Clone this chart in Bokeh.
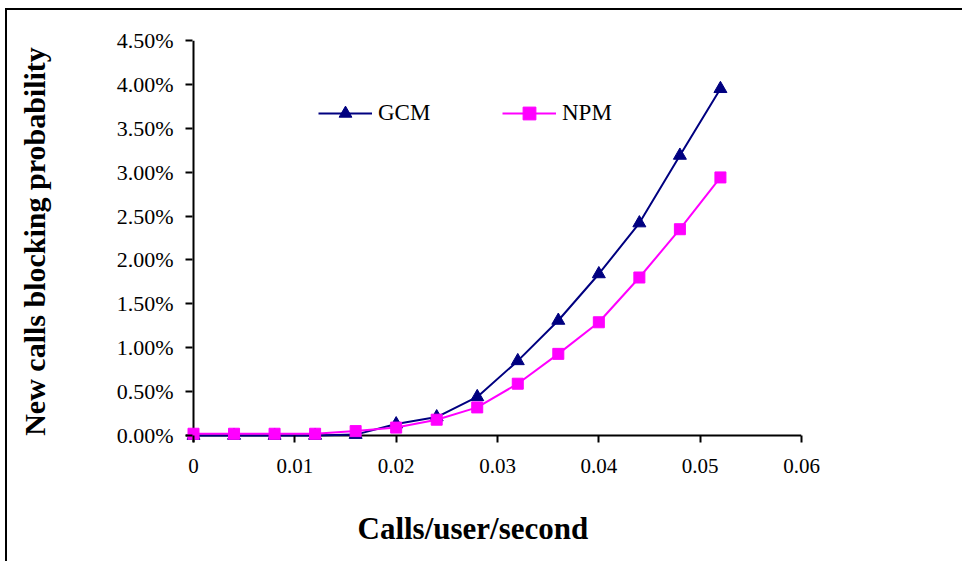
from bokeh.plotting import figure
from bokeh.models import (Range1d, FixedTicker, NumeralTickFormatter, Span, Legend,
                          LegendItem, Title, InlineStyleSheet)
from bokeh.embed import file_html
from bokeh.resources import INLINE

# ---- data ----
calls = [0, 0.004, 0.008, 0.012, 0.016, 0.020, 0.024, 0.028, 0.032, 0.036, 0.040, 0.044, 0.048, 0.052]
gcm = [0.0, 0.0, 0.0, 0.0, 0.0001, 0.0013, 0.0021, 0.0044, 0.0085, 0.0131, 0.0184, 0.0242, 0.0319, 0.0395]
npm = [0.0002, 0.0002, 0.0002, 0.0002, 0.0005, 0.0009, 0.0018, 0.0032, 0.0059, 0.0093, 0.0129, 0.0180, 0.0235, 0.0294]
x_ticks = [0, 0.01, 0.02, 0.03, 0.04, 0.05, 0.06]
y_ticks = [0, 0.005, 0.01, 0.015, 0.02, 0.025, 0.03, 0.035, 0.04, 0.045]
series_names = ["GCM", "NPM"]
x_title = "Calls/user/second"
y_title = "New calls blocking probability"

# ---- layout ----
FL, FR, FT, FB = 185, 801, 40, 442     # frame edges in pixels
X0PX, Y0PX = 193, 435                   # where the zero lines sit
xmax, ymax = x_ticks[-1], y_ticks[-1]
xpp = xmax / (FR - X0PX)
ypp = ymax / (Y0PX - FT)

SERIF = "Liberation Serif"

p = figure(width=962, height=561, output_backend="svg", toolbar_location=None,
           x_range=Range1d(-(X0PX - FL) * xpp, xmax),
           y_range=Range1d(-(FB - Y0PX) * ypp, ymax),
           min_border_left=FL, min_border_right=962 - FR,
           min_border_top=FT, min_border_bottom=561 - FB,
           frame_width=FR - FL, frame_height=FB - FT)
p.grid.visible = False
p.outline_line_color = None
p.background_fill_color = "white"
p.border_fill_color = "white"

for ax in (p.xaxis[0], p.yaxis[0]):
    ax.axis_line_color = None
    ax.major_tick_in = 7
    ax.major_tick_out = 0
    ax.minor_tick_line_color = None
    ax.major_tick_line_color = "black"
    ax.major_tick_line_width = 2
    ax.major_label_text_font = SERIF
    ax.major_label_text_color = "black"
    ax.axis_label_text_font = SERIF
    ax.axis_label_text_font_style = "bold"
    ax.axis_label_text_color = "black"

p.xaxis.ticker = FixedTicker(ticks=x_ticks)
p.yaxis.ticker = FixedTicker(ticks=y_ticks)
p.xaxis.formatter = NumeralTickFormatter(format="0.[00]")
p.yaxis.formatter = NumeralTickFormatter(format="0.00%")
p.xaxis.major_label_text_font_size = "21px"
p.yaxis.major_label_text_font_size = "22px"
p.xaxis.major_label_standoff = 16
p.yaxis.major_label_standoff = 12
p.yaxis.axis_label = y_title
p.yaxis.axis_label_text_font_size = "30px"
p.yaxis.axis_label_standoff = 63

# x-axis title, placed off-centre like the reference
p.add_layout(Title(text=x_title, align="left", offset=172, standoff=66,
                   text_font=SERIF, text_font_style="bold", text_font_size="31px",
                   text_color="black"), "below")

# axis lines at the zero positions
p.add_layout(Span(location=0, dimension="width", line_color="black", line_width=2, level="underlay"))
p.add_layout(Span(location=0, dimension="height", line_color="black", line_width=2, level="underlay"))

NAVY = "#000080"
MAG = "#FF00FF"
l1 = p.line(calls, gcm, line_color=NAVY, line_width=2)
m1 = p.scatter(calls, gcm, marker="triangle", size=13, fill_color=NAVY, line_color=NAVY)
l2 = p.line(calls, npm, line_color=MAG, line_width=2)
m2 = p.scatter(calls, npm, marker="square", size=11, fill_color=MAG, line_color=MAG)

def make_legend(name, rs, xloc):
    return Legend(items=[LegendItem(label=name, renderers=rs)], location=(xloc, FB - 129),
                  orientation="horizontal", glyph_width=54, glyph_height=32, label_height=32,
                  label_standoff=6, padding=0, margin=0, border_line_color=None,
                  background_fill_alpha=0, label_text_font=SERIF, label_text_font_size="23px",
                  label_text_color="black")

p.add_layout(make_legend(series_names[0], [l1, m1], 318 - FL))
p.add_layout(make_legend(series_names[1], [l2, m2], 502 - FL))

# outer chart border (only its top and left edges fall inside the window)
p.stylesheets = [InlineStyleSheet(css="""
:host { position: relative; }
:host::after {
  content: ""; position: absolute; left: 5px; top: 8px;
  width: calc(100% - 7px); height: calc(100% - 10px);
  border-left: 2px solid black; border-top: 2px solid black;
  pointer-events: none; z-index: 10;
}
""")]

open("out.html", "w").write(file_html(p, INLINE))
